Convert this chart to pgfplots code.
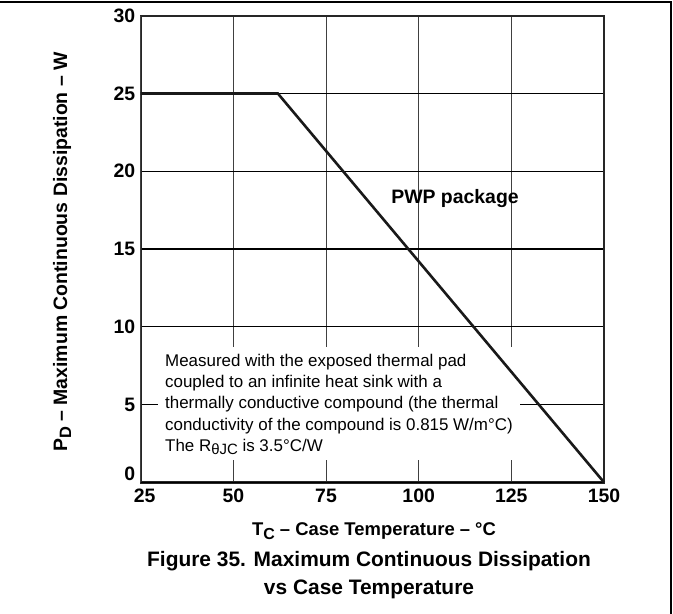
\documentclass[border=0pt]{standalone}
\usepackage{pgfplots}
\pgfplotsset{compat=1.18}
\usepackage{fontspec}
\setmainfont{Liberation Sans}
\begin{document}
\begin{tikzpicture}
\useasboundingbox (0,0) rectangle (673bp,-614bp);
\draw[line width=1.3bp] (0,-2bp) -- (671bp,-2bp) -- (671bp,-614bp);
\begin{axis}[
  at={(140.7bp,-482.3bp)}, anchor=south west,
  scale only axis, width=463.3bp, height=466.6bp,
  xmin=25, xmax=150, ymin=0, ymax=30,
  xtick={50,75,100,125,150}, ytick={5,10,15,20,25,30},
  extra x ticks={25}, extra y ticks={0},
  extra x tick style={xticklabel style={xshift=4bp}},
  extra y tick style={yticklabel style={yshift=8bp}},
  xmajorgrids, ymajorgrids,
  major tick length=0pt,
  axis line style={line width=2.4bp, black!85},
  x grid style={line width=0.9bp, black!75},
  y grid style={line width=1.1bp, black},
  tick label style={font=\fontsize{19.5}{19.5}\selectfont\bfseries},
  xticklabel style={yshift=-3bp},
  yticklabel style={xshift=-2bp},
  /pgf/number format/assume math mode=true,
  clip=false,
]
\fill[white] (axis cs:29.67,8.70) rectangle (axis cs:127.3,1.43);
\addplot[line width=2.6bp, black!90, line join=miter] coordinates {(25,25) (62,25) (150,0)};
\node[anchor=north west, inner sep=0pt, align=left, font=\fontsize{17}{21.4}\selectfont]
  at (axis cs:31.55,8.27)
  {Measured with the exposed thermal pad\\
   coupled to an infinite heat sink with a\\
   thermally conductive compound (the thermal\\
   conductivity of the compound is 0.815 W/m°C)\\
   The R\raisebox{-3.5bp}{\fontsize{15}{15}\selectfont θJC} is 3.5°C/W};
\node[font=\fontsize{19.5}{19.5}\selectfont\bfseries] at (axis cs:109.8,18.22) {PWP package};
\end{axis}
\node[anchor=base, font=\fontsize{18.5}{18.5}\selectfont\bfseries] at (374bp,-535bp)
  {T\raisebox{-4bp}{\fontsize{16}{16}\selectfont C} -- Case Temperature -- °C};
\node[anchor=base, font=\fontsize{21}{21}\selectfont\bfseries] at (369bp,-566.7bp)
  {Figure 35. Maximum Continuous Dissipation};
\node[anchor=base, font=\fontsize{21}{21}\selectfont\bfseries] at (369bp,-594bp)
  {vs Case Temperature};
\node[anchor=base, rotate=90, font=\fontsize{19.5}{19.5}\selectfont\bfseries] at (67bp,-252bp)
  {P\raisebox{-4bp}{\fontsize{16.5}{16.5}\selectfont D} -- Maximum Continuous Dissipation -- W};
\end{tikzpicture}
\end{document}
